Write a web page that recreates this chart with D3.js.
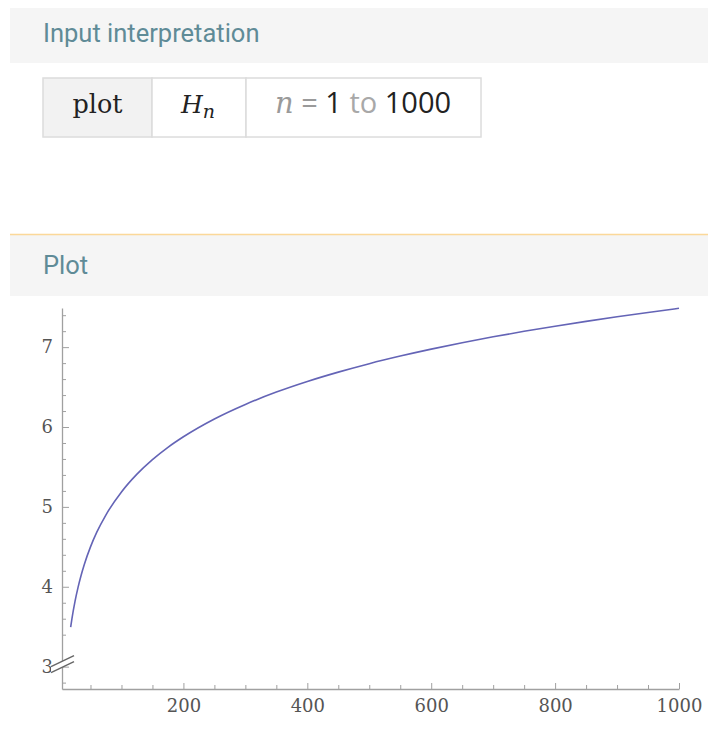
<!DOCTYPE html>
<html>
<head>
<meta charset="utf-8">
<script src="https://cdn.jsdelivr.net/npm/d3@7"></script>
<style>
  body { margin: 0; background: #fff; }
  svg { display: block; }
</style>
</head>
<body>
<script>
// harmonic numbers H_n (n from the x axis, H from the y axis)
const nValues = [18, 20, 25, 30, 35, 40, 50, 60, 75, 100, 125, 150, 175, 200, 250, 300, 350, 400, 450, 500, 550, 600, 650, 700, 750, 800, 850, 900, 950, 1000];
const hValues = [3.495, 3.598, 3.816, 3.995, 4.147, 4.279, 4.499, 4.680, 4.901, 5.187, 5.410, 5.592, 5.746, 5.878, 6.101, 6.283, 6.437, 6.570, 6.687, 6.793, 6.888, 6.975, 7.055, 7.129, 7.198, 7.262, 7.323, 7.380, 7.434, 7.486];

const xMajorTicks = [200, 400, 600, 800, 1000];
const xMinorTicks = [50, 100, 150, 250, 300, 350, 450, 500, 550, 650, 700, 750, 850, 900, 950];
const yMajorTicks = [3, 4, 5, 6, 7];
const yMinorTicks = [2.8, 3.4, 3.6, 3.8, 4.2, 4.4, 4.6, 4.8, 5.2, 5.4, 5.6, 5.8, 6.2, 6.4, 6.6, 6.8, 7.2, 7.4];

const W = 708, H = 730;
const svg = d3.select("body").append("svg").attr("width", W).attr("height", H);

const headColor = "#5f8b97";

// --- "Input interpretation" pod ---
svg.append("rect").attr("x", 10).attr("y", 8).attr("width", W - 10).attr("height", 55).attr("fill", "#f5f5f5");
svg.append("text").attr("x", 43).attr("y", 42).text("Input interpretation")
  .attr("font-family", "Roboto").attr("font-size", 25.5).attr("fill", headColor);

// table cells
const cells = [{x: 43, w: 109, bg: "#f2f2f2"}, {x: 152, w: 94, bg: "#fff"}, {x: 246, w: 235, bg: "#fff"}];
svg.selectAll("rect.cell").data(cells).enter().append("rect")
  .attr("class", "cell")
  .attr("x", d => d.x).attr("y", 78).attr("width", d => d.w).attr("height", 59)
  .attr("fill", d => d.bg).attr("stroke", "#dcdcdc").attr("stroke-width", 1.5);

svg.append("text").attr("x", 97.5).attr("y", 113).attr("text-anchor", "middle")
  .attr("font-family", "DejaVu Serif").attr("font-size", 25.5).attr("fill", "#222").text("plot");

const hn = svg.append("text").attr("x", 198).attr("y", 113).attr("text-anchor", "middle")
  .attr("font-family", "DejaVu Serif").attr("font-style", "italic").attr("fill", "#222");
hn.append("tspan").attr("font-size", 25).text("H");
hn.append("tspan").attr("font-size", 19).attr("dy", 5).text("n");

const rng = svg.append("text").attr("x", 363).attr("y", 113).attr("text-anchor", "middle")
  .attr("font-size", 29);
rng.append("tspan").attr("font-family", "DejaVu Serif").attr("font-style", "italic").attr("fill", "#9a9a9a").text("n");
rng.append("tspan").attr("font-family", "Open Sans").attr("fill", "#9a9a9a").text(" = ");
rng.append("tspan").attr("font-family", "Open Sans").attr("fill", "#222").text("1");
rng.append("tspan").attr("font-family", "Open Sans").attr("fill", "#a8a8a8").text(" to ");
rng.append("tspan").attr("font-family", "Open Sans").attr("fill", "#222").text("1000");

// --- "Plot" pod ---
svg.append("rect").attr("x", 10).attr("y", 235).attr("width", W - 10).attr("height", 61).attr("fill", "#f5f5f5");
svg.append("line").attr("x1", 10).attr("x2", W).attr("y1", 234.5).attr("y2", 234.5)
  .attr("stroke", "#fbd899").attr("stroke-width", 1.5);
svg.append("text").attr("x", 43).attr("y", 274).text("Plot")
  .attr("font-family", "Roboto").attr("font-size", 25.5).attr("fill", headColor);

// --- chart ---
const x = d3.scaleLinear().domain([4, 1000]).range([62, 679]);
const y = d3.scaleLinear().domain([2.72, 7.49]).range([689, 308]);
const axisColor = "#a0a0a0";
const labelFont = "DejaVu Serif";

// x axis (ticks pointing inward)
const gx = svg.append("g").attr("transform", "translate(0," + y(2.72) + ")");
gx.call(d3.axisTop(x).tickValues(xMinorTicks).tickSize(4).tickFormat(""));
gx.call(g => g.select(".domain").remove());
const gx2 = svg.append("g").attr("transform", "translate(0," + y(2.72) + ")");
gx2.call(d3.axisTop(x).tickValues(xMajorTicks).tickSize(6).tickSizeOuter(0).tickFormat(d3.format("d")));
gx2.selectAll(".tick text").attr("y", 23).attr("dy", 0)
  .attr("font-family", labelFont).attr("font-size", 18).attr("fill", "#555");
gx2.select(".domain").attr("stroke", axisColor).attr("stroke-width", 1.3);

// y axis
const gy = svg.append("g").attr("transform", "translate(" + x(4) + ",0)");
gy.call(d3.axisRight(y).tickValues(yMinorTicks).tickSize(4).tickFormat(""));
gy.call(g => g.select(".domain").remove());
const gy2 = svg.append("g").attr("transform", "translate(" + x(4) + ",0)");
gy2.call(d3.axisRight(y).tickValues(yMajorTicks).tickSize(7).tickSizeOuter(0).tickFormat(d3.format("d")));
gy2.selectAll(".tick text").attr("x", -9).attr("text-anchor", "end")
  .attr("font-family", labelFont).attr("font-size", 18).attr("fill", "#555");
gy2.select(".domain").attr("stroke", axisColor).attr("stroke-width", 1.3);
svg.selectAll("g .tick line").attr("stroke", axisColor);

// axis break mark near 3
const by = y(3) - 6, bx = x(4);
svg.append("polygon")
  .attr("points", [[bx - 11, by + 6], [bx + 12, by - 5], [bx + 12, by + 1], [bx - 11, by + 12]].map(p => p.join(",")).join(" "))
  .attr("fill", "#fff");
[0, 6].forEach(o => {
  svg.append("line").attr("x1", bx - 11).attr("y1", by + 6 + o).attr("x2", bx + 12).attr("y2", by - 5 + o)
    .attr("stroke", "#666").attr("stroke-width", 1.4);
});

// the curve
const line = d3.line().x((d, i) => x(nValues[i])).y(d => y(d)).curve(d3.curveMonotoneX);
svg.append("path").datum(hValues).attr("d", line)
  .attr("fill", "none").attr("stroke", "#6464b6").attr("stroke-width", 1.6);
</script>
</body>
</html>
